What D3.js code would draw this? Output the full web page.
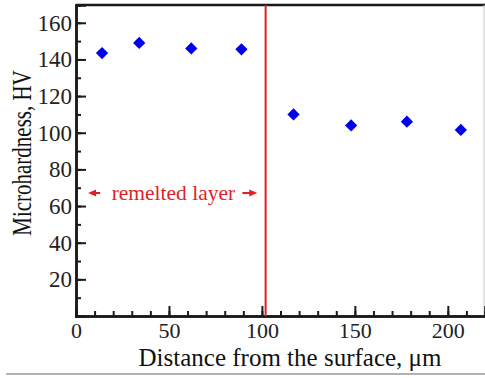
<!DOCTYPE html>
<html>
<head>
<meta charset="utf-8">
<script src="https://cdn.jsdelivr.net/npm/d3@7"></script>
<style>
  body { margin: 0; background: #fff; }
  svg { display: block; font-family: "Liberation Serif", "Times New Roman", serif; }
</style>
</head>
<body>
<svg width="485" height="378"></svg>
<script>
// Measured points (distance in um, hardness HV)
const distance = [14, 34, 62, 89, 117, 148, 178, 207];
const hardness = [143.5, 149, 146, 145.5, 110, 104, 106, 101.5];
const xTicks = [0, 50, 100, 150, 200];
const yTicks = [20, 40, 60, 80, 100, 120, 140, 160];
const boundary = 102;
const layerLabel = "remelted layer";

const svg = d3.select("svg");
const plotLeft = 76, plotTop = 5, plotRight = 485, plotBottom = 316;

const x = d3.scaleLinear().domain([0, 220]).range([plotLeft, plotRight]);
const y = d3.scaleLinear().domain([0, 169.7]).range([plotBottom, plotTop]);

const ink = "#1a1a1a";

// frame: top line and light right edge
svg.append("line")
  .attr("x1", plotLeft).attr("x2", plotRight)
  .attr("y1", plotTop).attr("y2", plotTop)
  .attr("stroke", ink).attr("stroke-width", 2.5);
svg.append("line")
  .attr("x1", 484).attr("x2", 484)
  .attr("y1", plotTop).attr("y2", plotBottom)
  .attr("stroke", "#c8c8c8").attr("stroke-width", 1);

// x axis - minor ticks every 10, major every 50, pointing inward
const xAxis = svg.append("g").attr("transform", `translate(0,${plotBottom})`);
xAxis.call(d3.axisBottom(x).tickValues(d3.range(10, 220, 10)).tickSize(-5).tickFormat(""));
xAxis.append("g").call(d3.axisBottom(x).tickValues(xTicks).tickSize(-10).tickFormat(d3.format("d")));
xAxis.selectAll(".domain").attr("stroke", ink).attr("stroke-width", 2.5);
xAxis.selectAll(".tick line").attr("stroke", ink).attr("stroke-width", 2);
xAxis.selectAll("text")
  .attr("y", 6).attr("dy", "0.71em")
  .attr("fill", "#222").style("font-size", "22px")
  .style("font-family", "Liberation Serif, serif");

// y axis
const yAxis = svg.append("g").attr("transform", `translate(${plotLeft},0)`);
yAxis.call(d3.axisLeft(y).tickValues(d3.range(10, 170, 10)).tickSize(-5).tickFormat(""));
yAxis.append("g").call(d3.axisLeft(y).tickValues(yTicks).tickSize(-10).tickFormat(d3.format("d")));
yAxis.selectAll(".domain").attr("stroke", ink).attr("stroke-width", 2.5);
yAxis.selectAll(".tick line").attr("stroke", ink).attr("stroke-width", 2);
yAxis.selectAll("text")
  .attr("x", -4)
  .attr("fill", "#222").style("font-size", "23px")
  .style("font-family", "Liberation Serif, serif");

// boundary line
const red = "#e21f26";
svg.append("line")
  .attr("x1", x(boundary)).attr("x2", x(boundary))
  .attr("y1", plotTop).attr("y2", plotBottom)
  .attr("stroke", red).attr("stroke-width", 2);

// annotation with arrows
const ay = 193;
svg.append("text")
  .attr("x", x(52.4)).attr("y", ay)
  .attr("dy", "0.32em")
  .attr("text-anchor", "middle")
  .attr("fill", red)
  .style("font-size", "21.5px")
  .text(layerLabel);
const arrow = (x0, x1) => {
  const dir = Math.sign(x1 - x0);
  svg.append("line")
    .attr("x1", x0).attr("x2", x1 - dir * 5)
    .attr("y1", ay).attr("y2", ay)
    .attr("stroke", red).attr("stroke-width", 2);
  svg.append("path")
    .attr("d", `M${x1},${ay} L${x1 - dir * 8},${ay - 3.5} L${x1 - dir * 8},${ay + 3.5} Z`)
    .attr("fill", red);
};
arrow(x(13), x(6.5));
arrow(x(89.5), x(97.5));

// data markers (diamonds)
const pts = distance.map((d, i) => ({ d, h: hardness[i] }));
svg.selectAll(".pt")
  .data(pts)
  .enter()
  .append("path")
  .attr("class", "pt")
  .attr("d", d3.symbol(d3.symbolSquare, 75))
  .attr("transform", p => `translate(${x(p.d)},${y(p.h)}) rotate(45)`)
  .attr("fill", "#0000ee");

// axis titles
svg.append("text")
  .attr("x", 290).attr("y", 366)
  .attr("text-anchor", "middle")
  .attr("fill", "#111")
  .style("font-size", "25px")
  .text("Distance from the surface,  \u03bcm");

svg.append("text")
  .attr("transform", "translate(31,153) rotate(-90) scale(1,1.35)")
  .attr("text-anchor", "middle")
  .attr("fill", "#111")
  .style("font-size", "21px")
  .text("Microhardness, HV");

// bottom separator
svg.append("line")
  .attr("x1", 6).attr("x2", 485)
  .attr("y1", 374).attr("y2", 374)
  .attr("stroke", "#999").attr("stroke-width", 1.5);
</script>
</body>
</html>
